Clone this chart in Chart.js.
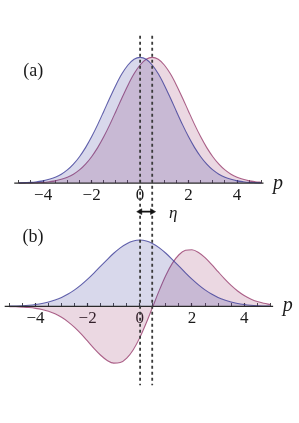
<!DOCTYPE html>
<html>
<head>
<meta charset="utf-8">
<script src="https://cdn.jsdelivr.net/npm/chart.js@4.4.1/dist/chart.umd.min.js"></script>
<style>
  html, body { margin: 0; padding: 0; background: #fff; }
  #wrap { position: relative; width: 299px; height: 423px; }
</style>
</head>
<body>
<div id="wrap"><canvas id="momentumChart"></canvas></div>
<script>
// momentum grid shared by both panels
const pValues = [-5, -4.75, -4.5, -4.25, -4, -3.75, -3.5, -3.25, -3, -2.75, -2.5, -2.25, -2, -1.75, -1.5, -1.25, -1, -0.75, -0.5, -0.25,
  0, 0.25, 0.5, 0.75, 1, 1.25, 1.5, 1.75, 2, 2.25, 2.5, 2.75, 3, 3.25, 3.5, 3.75, 4, 4.25, 4.5, 4.75, 5];

// panel (a): distribution before and after the shift eta
const blueA = [0.002, 0.004, 0.006, 0.011, 0.018, 0.030, 0.047, 0.071, 0.105, 0.151, 0.210, 0.282, 0.368, 0.465, 0.570, 0.677, 0.779, 0.869, 0.939, 0.985,
  1.000, 0.985, 0.939, 0.869, 0.779, 0.677, 0.570, 0.465, 0.368, 0.282, 0.210, 0.151, 0.105, 0.071, 0.047, 0.030, 0.018, 0.011, 0.006, 0.004, 0.002];
const pinkA = [0.001, 0.001, 0.002, 0.004, 0.006, 0.011, 0.018, 0.030, 0.047, 0.071, 0.105, 0.151, 0.210, 0.282, 0.368, 0.465, 0.570, 0.677, 0.779, 0.869,
  0.939, 0.985, 1.000, 0.985, 0.939, 0.869, 0.779, 0.677, 0.570, 0.465, 0.368, 0.282, 0.210, 0.151, 0.105, 0.071, 0.047, 0.030, 0.018, 0.011, 0.006];

// panel (b)
const blueB = [0.004, 0.007, 0.011, 0.018, 0.029, 0.044, 0.066, 0.096, 0.135, 0.186, 0.249, 0.325, 0.411, 0.506, 0.607, 0.707, 0.801, 0.883, 0.946, 0.986,
  1.000, 0.986, 0.946, 0.883, 0.801, 0.707, 0.607, 0.506, 0.411, 0.325, 0.249, 0.186, 0.135, 0.096, 0.066, 0.044, 0.029, 0.018, 0.011, 0.007, 0.004];
const pinkB = [-0.003, -0.005, -0.010, -0.017, -0.029, -0.047, -0.073, -0.112, -0.164, -0.232, -0.316, -0.415, -0.524, -0.635, -0.736, -0.814, -0.855, -0.846, -0.779, -0.652,
  -0.470, -0.246, 0.000, 0.246, 0.470, 0.652, 0.779, 0.846, 0.855, 0.814, 0.736, 0.635, 0.524, 0.415, 0.316, 0.232, 0.164, 0.112, 0.073, 0.047, 0.029];

// ticks
const tickValues = [-5, -4.5, -4, -3.5, -3, -2.5, -2, -1.5, -1, -0.5, 0, 0.5, 1, 1.5, 2, 2.5, 3, 3.5, 4, 4.5, 5];
const labelledTicks = [-4, -2, 0, 2, 4];

// dashed markers at p = 0 and p = eta
const markerValues = [0, 0.5];
const markerSpan = [1.171, -1.607];   // in panel (a) units
const axisSpanA = [-5.19, 5.09];
const axisSpanB = [-5.19, 5.11];
const arrowLevel = -0.227;

// axis ranges (whole canvas is the chart area)
const rangeXA = [-5.592, 6.368];
const rangeYA = [-1.8716, 1.4202];
const rangeXB = [-5.186, 5.929];
const rangeYB = [-1.6888, 4.550];

const blueLine = 'rgba(61, 61, 153, 0.8)';
const blueFill = 'rgba(61, 61, 153, 0.2)';
const pinkLine = 'rgba(153, 61, 110, 0.8)';
const pinkFill = 'rgba(153, 61, 110, 0.2)';

function points(ys) {
  return pValues.map((p, i) => ({ x: p, y: ys[i] }));
}

function curve(ys, line, fill, xId, yId) {
  return {
    data: points(ys),
    xAxisID: xId,
    yAxisID: yId,
    borderColor: line,
    backgroundColor: fill,
    borderWidth: 1.1,
    pointRadius: 0,
    cubicInterpolationMode: 'monotone',
    fill: { value: 0 }
  };
}

function straight(pts, color, width, dash, xId, yId) {
  return {
    data: pts,
    xAxisID: xId,
    yAxisID: yId,
    borderColor: color,
    borderWidth: width,
    borderDash: dash,
    pointRadius: 0,
    fill: false
  };
}

function fmtTick(v) {
  if (!labelledTicks.includes(v)) return '';
  return v < 0 ? '\u2212' + Math.abs(v) : String(v);
}

function xAxis(range, anchor) {
  return {
    type: 'linear',
    axis: 'x',
    min: range[0],
    max: range[1],
    position: anchor,
    border: { display: false },
    grid: {
      drawOnChartArea: false,
      drawTicks: true,
      tickLength: -3,
      color: '#333',
      tickWidth: (ctx) => (ctx.tick && labelledTicks.includes(ctx.tick.value)) ? 1.2 : 0.9
    },
    ticks: {
      autoSkip: false,
      maxRotation: 0,
      minRotation: 0,
      padding: 5,
      color: '#1a1a1a',
      font: { family: '"Liberation Serif", serif', size: 17 },
      callback: fmtTick
    },
    afterBuildTicks: (scale) => {
      scale.ticks = tickValues.map(v => ({ value: v }));
    }
  };
}

// text labels in data coordinates
const panelTexts = [
  { text: '(a)', x: -4.41, y: 0.852, xId: 'xA', yId: 'yA', font: '18px "Liberation Serif"' },
  { text: '(b)', x: -4.09, y: 0.966, xId: 'xB', yId: 'yB', font: '18px "Liberation Serif"' },
  { text: 'p', x: 5.69, y: -0.047, xId: 'xA', yId: 'yA', font: 'italic 20px "Liberation Serif"' },
  { text: 'p', x: 5.67, y: -0.074, xId: 'xB', yId: 'yB', font: 'italic 20px "Liberation Serif"' },
  { text: '\u03B7', x: 1.368, y: -0.280, xId: 'xA', yId: 'yA', font: 'italic 17px "Liberation Serif"' }
];

const textPlugin = {
  id: 'panelTexts',
  afterDatasetsDraw(chart) {
    const ctx = chart.ctx;
    ctx.save();
    ctx.fillStyle = '#1a1a1a';
    ctx.textAlign = 'center';
    ctx.textBaseline = 'alphabetic';
    panelTexts.forEach(t => {
      ctx.font = t.font;
      const px = chart.scales[t.xId].getPixelForValue(t.x);
      const py = chart.scales[t.yId].getPixelForValue(t.y);
      ctx.fillText(t.text, px, py);
    });
    ctx.restore();
  }
};

const datasets = [
  // eta arrow
  {
    data: markerValues.map(v => ({ x: v, y: arrowLevel })),
    xAxisID: 'xA',
    yAxisID: 'yA',
    borderColor: '#111',
    borderWidth: 1.6,
    pointStyle: 'triangle',
    pointRadius: 3.4,
    pointRotation: [270, 90],
    pointBackgroundColor: '#111',
    pointBorderColor: '#111',
    pointBorderWidth: 0.5,
    fill: false
  },
  // dashed markers
  ...markerValues.map(v => straight([{ x: v, y: markerSpan[0] }, { x: v, y: markerSpan[1] }], '#3a3a3a', 1.8, [3, 3], 'xA', 'yA')),
  // axis lines
  straight([{ x: axisSpanA[0], y: 0 }, { x: axisSpanA[1], y: 0 }], '#2a2a2a', 1.2, [], 'xA', 'yA'),
  straight([{ x: axisSpanB[0], y: 0 }, { x: axisSpanB[1], y: 0 }], '#2a2a2a', 1.2, [], 'xB', 'yB'),
  // curves
  curve(blueA, blueLine, blueFill, 'xA', 'yA'),
  curve(pinkA, pinkLine, pinkFill, 'xA', 'yA'),
  curve(blueB, blueLine, blueFill, 'xB', 'yB'),
  curve(pinkB, pinkLine, pinkFill, 'xB', 'yB')
];

const chart = new Chart(document.getElementById('momentumChart'), {
  type: 'line',
  data: { datasets: datasets },
  options: {
    responsive: true,
    maintainAspectRatio: false,
    animation: false,
    events: [],
    layout: { padding: 0 },
    plugins: {
      legend: { display: false },
      tooltip: { enabled: false }
    },
    scales: {
      xA: xAxis(rangeXA, { yA: 0 }),
      xB: xAxis(rangeXB, { yB: 0 }),
      yA: { type: 'linear', axis: 'y', display: false, min: rangeYA[0], max: rangeYA[1] },
      yB: { type: 'linear', axis: 'y', display: false, min: rangeYB[0], max: rangeYB[1] }
    }
  },
  plugins: [textPlugin]
});
</script>
</body>
</html>
